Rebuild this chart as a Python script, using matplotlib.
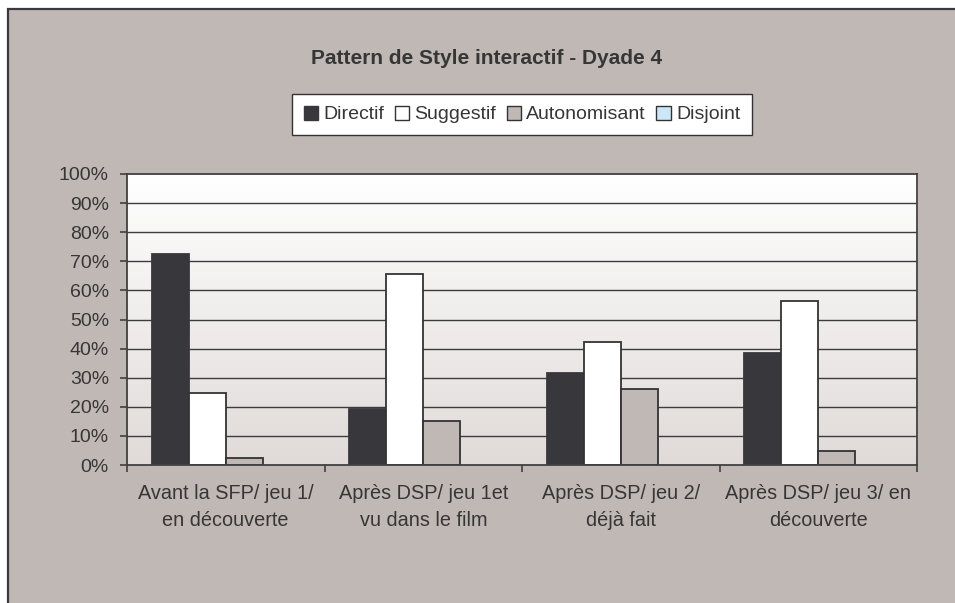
import numpy as np
import matplotlib
matplotlib.use('Agg')
import matplotlib.pyplot as plt
from matplotlib.patches import Rectangle, Patch

plt.rcParams['font.family'] = ['Liberation Sans', 'DejaVu Sans']

# values in percent, per situation
categories = ['Avant la SFP/ jeu 1/\nen découverte',
              'Après DSP/ jeu 1et\nvu dans le film',
              'Après DSP/ jeu 2/\ndéjà fait',
              'Après DSP/ jeu 3/ en\ndécouverte']
series_names = ['Directif', 'Suggestif', 'Autonomisant', 'Disjoint']
directif = [72.6, 19.3, 31.5, 38.5]
suggestif = [24.7, 65.5, 42.3, 56.4]
autonomisant = [2.3, 15.2, 26.2, 4.9]
disjoint = [0, 0, 0, 0]
y_ticks = [0, 10, 20, 30, 40, 50, 60, 70, 80, 90, 100]

bg = '#c0b8b5'
ink = '#363636'
colors = ['#38373c', '#ffffff', '#c0b8b5', '#cce8f8']

fig = plt.figure(figsize=(9.55, 6.03), dpi=100)
fig.patch.set_facecolor('white')
# grey chart frame with dark top/left edge
fig.patches.append(Rectangle((7.5 / 955, -0.05), 1.1, 1 - 8.5 / 603 + 0.05,
                             transform=fig.transFigure, facecolor=bg,
                             edgecolor='#3a3a3e', linewidth=1.6, zorder=-10))

ax = fig.add_axes([127 / 955, 1 - 465 / 603, 790 / 955, 291 / 603])
ax.set_facecolor('white')

# vertical white-to-grey fill of the plot area
grad = np.linspace(0, 1, 256).reshape(-1, 1)
top = np.array([1.0, 1.0, 1.0])
bottom = np.array([224, 219, 217]) / 255
img = top + (bottom - top) * grad[..., None]
ax.imshow(img.reshape(256, 1, 3), extent=[-0.5, 3.5, 0, 100], aspect='auto',
          origin='upper', zorder=0, interpolation='bilinear')

for t in y_ticks[1:-1]:
    ax.axhline(t, color='#3c3c3c', lw=1.0, zorder=1)

x = np.arange(len(categories))
w = 0.1875
all_series = [directif, suggestif, autonomisant, disjoint]
for i, (vals, col) in enumerate(zip(all_series, colors)):
    edge = '#38373c' if i == 0 else '#333333'
    lw = 0 if i == 3 else 1.3
    ax.bar(x + (i - 1.5) * w, vals, width=w, color=col, edgecolor=edge,
           linewidth=lw, zorder=2)

ax.set_xlim(-0.5, 3.5)
ax.set_ylim(0, 100)
ax.set_yticks(y_ticks)
ax.set_yticklabels([f'{t}%' for t in y_ticks])
ax.set_xticks([-0.5, 0.5, 1.5, 2.5, 3.5])
ax.set_xticklabels([])
ax.set_xticks(x, minor=True)
ax.set_xticklabels(categories, minor=True, fontsize=14.3, color=ink,
                   linespacing=1.5)
ax.tick_params(axis='x', which='minor', length=0, pad=14)
ax.tick_params(axis='x', which='major', length=5, width=1.2, color='#404040')
ax.tick_params(axis='y', length=5, width=1.2, color='#404040', pad=8,
               labelsize=14, labelcolor=ink)
for s in ax.spines.values():
    s.set_color('#404040')
    s.set_linewidth(1.3)

fig.text(487 / 955, 1 - 58 / 603, 'Pattern de Style interactif - Dyade 4',
         ha='center', va='center', fontsize=15, fontweight='bold', color=ink)

handles = [Patch(facecolor=c, edgecolor='#333333', linewidth=1.0)
           for c in colors]
handles[0] = Patch(facecolor=colors[0], edgecolor=colors[0])
leg = fig.legend(handles, series_names, loc='center', ncol=4,
                 bbox_to_anchor=(522 / 955, 1 - 114.5 / 603),
                 fontsize=14, frameon=True, fancybox=False, framealpha=1,
                 handlelength=0.75, handleheight=0.75, handletextpad=0.25,
                 columnspacing=0.55, borderpad=0.6, labelcolor=ink)
leg.get_frame().set_edgecolor('#333333')
leg.get_frame().set_linewidth(1.0)
leg.get_frame().set_facecolor('white')

fig.savefig('out.png', dpi=100)
